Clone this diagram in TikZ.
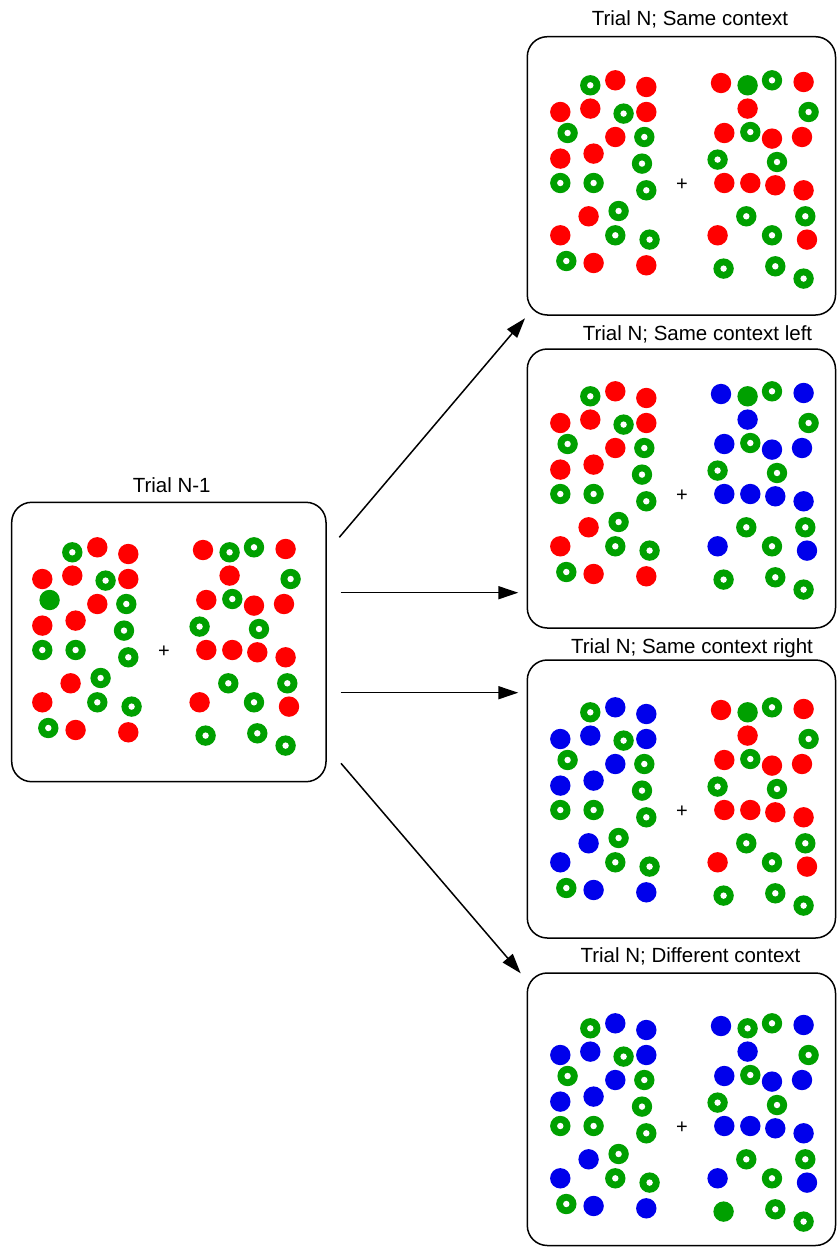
\documentclass[tikz,border=0pt]{standalone}
\usepackage{fontspec}
\setmainfont{Liberation Sans}
\usetikzlibrary{arrows.meta}
\definecolor{dred}{RGB}{255,0,0}
\definecolor{dgreen}{RGB}{0,160,0}
\definecolor{dblue}{RGB}{0,0,235}
\newcommand\mydots[2]{\fill[\curcol] (#1,#2) circle[radius=10.2pt];}
\newcommand\mydotg[2]{\fill[dgreen] (#1,#2) circle[radius=10.2pt]; \fill[white] (#1,#2) circle[radius=3.2pt];}
\newcommand\mydotf[2]{\fill[dgreen] (#1,#2) circle[radius=10.2pt];}
\newcommand\drawpanel[7]{%
\begin{scope}[shift={(#1,#2)}]
\def\curcol{#3}%
\foreach \x/\y/\ty in {-91.7/-97.7/g,-66.7/-102.7/s,-35.7/-96/s,-121.7/-71/s,-91.7/-74.4/s,-58.4/-69.4/g,-35.7/-71/s,-114.4/-50/#5,-66.7/-46/s,-37.7/-46/g,-121.7/-24.4/s,-88.4/-29.4/s,-40/-19.4/g,-121.7/0/g,-88.4/0/g,-35.7/7.3/g,-93.4/33.3/s,-63.4/28/g,-121.7/52.3/s,-66.7/52.3/g,-32.4/56.6/g,-115.7/78/g,-88.4/80/s,-35.7/82.3/s}{\csname mydot\ty\endcsname{\x}{\y}}
\def\curcol{#4}%
\foreach \x/\y/\ty in {39/-100/s,65.6/-97.7/#6,90/-102.7/g,121.6/-101/s,65.6/-74.4/s,126.6/-71/g,42.3/-50/s,68.3/-51/g,90/-44.4/s,120/-46/s,35.6/-23.4/g,95/-21/g,42.3/0/s,68.3/0/s,93.3/2.3/s,121.6/7.3/s,64.3/33.3/g,123.3/33.3/g,35.6/52.3/s,90/52.3/g,125/56.6/s,41.6/85.6/#7,93.3/83.3/g,121.6/95.6/g}{\csname mydot\ty\endcsname{\x}{\y}}
\end{scope}}
\begin{document}
\begin{tikzpicture}[x=1pt,y=-1pt,
  panel/.style={draw=black,line width=1.5pt,rounded corners=20pt,fill=white,inner sep=0pt},
  title/.style={anchor=base,inner sep=0pt,font=\fontsize{20.5}{24}\selectfont},
  plus/.style={anchor=base,inner sep=0pt,font=\fontsize{20}{24}\selectfont},
  arr/.style={line width=1.5pt,-{Triangle[length=20pt,width=13pt]}}]
\useasboundingbox (0,0) rectangle (837,1248);
% boxes
\node[panel,minimum width=314.3pt,minimum height=279.4pt] (b0) at (168.85,642) {};
\node[panel,minimum width=308.2pt,minimum height=278.3pt] (b1) at (681.4,175.85) {};
\node[panel,minimum width=308.2pt,minimum height=279pt] (b2) at (681.4,488.5) {};
\node[panel,minimum width=308.2pt,minimum height=278pt] (b3) at (681.4,799) {};
\node[panel,minimum width=308.2pt,minimum height=272.5pt] (b4) at (681.4,1109.25) {};
% titles
\node[title] (t0) at (171.7,492) {Trial N-1};
\node[title] (t1) at (690,25) {Trial N; Same context};
\node[title] (t2) at (697.5,340) {Trial N; Same context left};
\node[title] (t3) at (692,653.3) {Trial N; Same context right};
\node[title] (t4) at (690.5,962.7) {Trial N; Different context};
% dots
\drawpanel{164}{650}{dred}{dred}{f}{g}{g}
\drawpanel{682}{183}{dred}{dred}{g}{f}{g}
\drawpanel{682}{494}{dred}{dblue}{g}{f}{g}
\drawpanel{682}{810}{dblue}{dred}{g}{f}{g}
\drawpanel{682}{1126}{dblue}{dblue}{g}{g}{f}
% plus signs
\node[plus] (p0) at (164,657.2) {+};
\node[plus] (p1) at (682,190.2) {+};
\node[plus] (p2) at (682,501.2) {+};
\node[plus] (p3) at (682,817.2) {+};
\node[plus] (p4) at (682,1133.2) {+};
% arrows
\coordinate (s1) at (339.3,537.3);
\coordinate (e1) at (525,318.3);
\coordinate (s2) at (340.7,592.7);
\coordinate (e2) at (518.3,592.7);
\coordinate (s3) at (340.7,692.7);
\coordinate (e3) at (518.3,692.7);
\coordinate (s4) at (341,763.3);
\coordinate (e4) at (520.7,973.3);
\draw[arr] (s1) -- (e1);
\draw[arr] (s2) -- (e2);
\draw[arr] (s3) -- (e3);
\draw[arr] (s4) -- (e4);
\end{tikzpicture}
\end{document}
